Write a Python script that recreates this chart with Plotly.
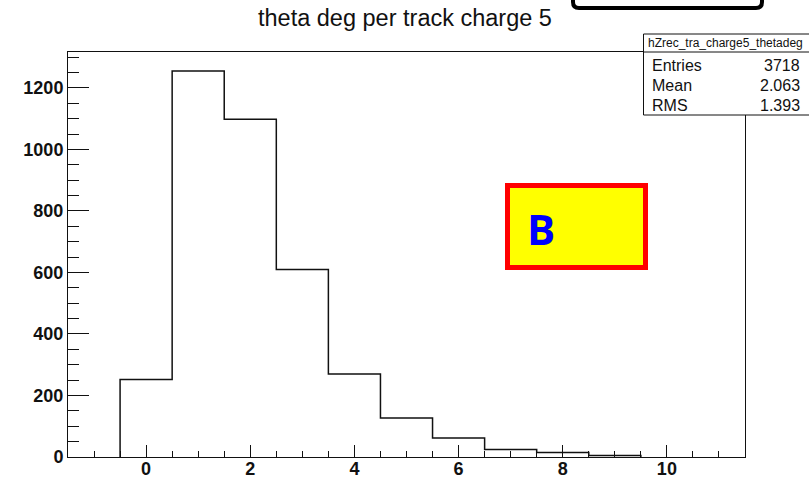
import plotly.graph_objects as go

# ---- data ----
bin_centers = [0, 1, 2, 3, 4, 5, 6, 7, 8, 9]
bin_counts = [252, 1255, 1098, 610, 270, 127, 62, 24, 15, 5]
bin_width = 1.0
x_tickvals = [0, 2, 4, 6, 8, 10]
y_tickvals = [0, 200, 400, 600, 800, 1000, 1200]
title_text = "theta deg per track charge 5"
hist_name = "hZrec_tra_charge5_thetadeg"
stat_labels = ["Entries", "Mean", "RMS"]
stat_values = ["3718", "2.063", "1.393"]
box_label = "B"

# step outline built from bin edges
xs = [bin_centers[0] - bin_width / 2]
ys = [0]
for c, v in zip(bin_centers, bin_counts):
    xs.append(c - bin_width / 2)
    ys.append(v)
xs.append(bin_centers[-1] + bin_width / 2)
ys.append(0)

W, H = 809, 479
L, R, T, B = 68, 64, 52, 22
PW, PH = W - L - R, H - T - B


def px(x):
    return (x - L) / PW


def py(y):
    return (H - B - y) / PH


fig = go.Figure()
fig.add_trace(go.Scatter(x=xs, y=ys, mode="lines", line=dict(color="#111", width=1.5, shape="hv"),
                         hoverinfo="skip", showlegend=False))

tickfont = dict(family="Liberation Sans", size=18, color="#111", weight="bold")
fig.update_xaxes(range=[-1.5, 11.5], automargin=False, showgrid=False, zeroline=False, showline=True,
                 linecolor="#111", linewidth=1, mirror=True, ticks="inside", ticklen=12, tickcolor="#111",
                 tickwidth=1, tickvals=x_tickvals, tickfont=tickfont, ticklabelstandoff=-5,
                 minor=dict(ticks="inside", ticklen=6, dtick=0.5, tick0=0, tickcolor="#111", showgrid=False))
fig.update_yaxes(range=[0, 1317], automargin=False, showgrid=False, zeroline=False, showline=True,
                 linecolor="#111", linewidth=1, mirror=True, ticks="inside", ticklen=21, tickcolor="#111",
                 tickwidth=1, tickvals=y_tickvals, tickfont=tickfont,
                 minor=dict(ticks="inside", ticklen=11, dtick=50, tick0=0, tickcolor="#111", showgrid=False))

shapes = []
# black rounded frame at top, partially off-canvas
x0, x1, y0, y1, r = 573, 762, -20, 8, 6
path = (f"M {px(x0)},{py(y0)} L {px(x0)},{py(y1 - r)} Q {px(x0)},{py(y1)} {px(x0 + r)},{py(y1)} "
        f"L {px(x1 - r)},{py(y1)} Q {px(x1)},{py(y1)} {px(x1)},{py(y1 - r)} L {px(x1)},{py(y0)}")
shapes.append(dict(type="path", xref="paper", yref="paper", path=path,
                   line=dict(color="black", width=4)))
# stats box
shapes.append(dict(type="rect", xref="paper", yref="paper", x0=px(643.5), x1=px(815), y0=py(115), y1=py(34),
                   fillcolor="white", line=dict(color="#111", width=1)))
shapes.append(dict(type="line", xref="paper", yref="paper", x0=px(643.5), x1=px(815), y0=py(52), y1=py(52),
                   line=dict(color="#111", width=1)))
# yellow box
shapes.append(dict(type="rect", xref="paper", yref="paper", x0=px(507.5), x1=px(645.5), y0=py(267.5),
                   y1=py(185.5), fillcolor="#ffff00", line=dict(color="#ff0000", width=5)))

annotations = [
    dict(text=title_text, xref="paper", yref="paper", x=px(405), y=py(18), showarrow=False,
         xanchor="center", yanchor="middle", font=dict(family="Liberation Sans", size=23.5, color="#111")),
    dict(text=hist_name, xref="paper", yref="paper", x=px(725), y=py(43), showarrow=False,
         xanchor="center", yanchor="middle", font=dict(family="Liberation Sans", size=12, color="#111")),
    dict(text=box_label, xref="paper", yref="paper", x=px(541), y=py(228), showarrow=False,
         xanchor="center", yanchor="middle", font=dict(family="Open Sans", size=42, color="#0000ff",
                                                       weight="bold")),
]
for i, (lab, val) in enumerate(zip(stat_labels, stat_values)):
    yy = 65 + i * 20
    annotations.append(dict(text=lab, xref="paper", yref="paper", x=px(650), y=py(yy), showarrow=False,
                            xanchor="left", yanchor="middle",
                            font=dict(family="Liberation Sans", size=16, color="#111")))
    annotations.append(dict(text=val, xref="paper", yref="paper", x=px(802), y=py(yy), showarrow=False,
                            xanchor="right", yanchor="middle",
                            font=dict(family="Liberation Sans", size=16, color="#111")))

fig.update_layout(width=W, height=H, margin=dict(l=L, r=R, t=T, b=B, pad=0),
                  paper_bgcolor="white", plot_bgcolor="white", shapes=shapes, annotations=annotations)

post = ("document.body.style.margin='0';document.body.style.padding='0';"
        "document.body.style.overflow='hidden';")
fig.write_html("out.html", post_script=post, config={"displayModeBar": False})
